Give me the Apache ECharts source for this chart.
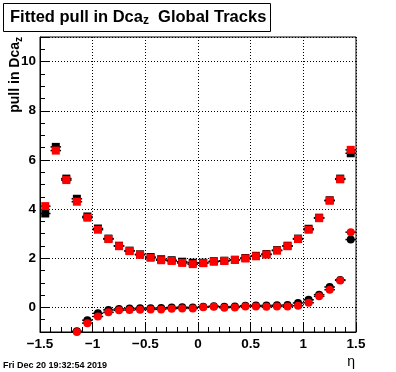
<!DOCTYPE html>
<html>
<head>
<meta charset="utf-8">
<script src="https://cdn.jsdelivr.net/npm/echarts@6/dist/echarts.min.js"></script>
<style>
html,body{margin:0;padding:0;background:#fff;}
#chart{width:396px;height:372px;}
</style>
</head>
<body>
<div id="chart"></div>
<script>
// ---- data (bin centres in eta, bin width 0.1) ----
const etaBins = [-1.45,-1.35,-1.25,-1.15,-1.05,-0.95,-0.85,-0.75,-0.65,-0.55,-0.45,-0.35,-0.25,-0.15,-0.05,
                 0.05,0.15,0.25,0.35,0.45,0.55,0.65,0.75,0.85,0.95,1.05,1.15,1.25,1.35,1.45];
const binHalfWidth = 0.05;
// upper curve (squares)
const blackSquares = [3.82,6.53,5.24,4.42,3.70,3.21,2.80,2.51,2.31,2.16,2.05,1.96,1.92,1.86,1.82,
                      1.82,1.88,1.90,1.94,2.01,2.10,2.17,2.33,2.51,2.80,3.20,3.65,4.36,5.24,6.27];
const redSquares   = [4.12,6.38,5.18,4.30,3.65,3.16,2.78,2.49,2.29,2.14,2.02,1.92,1.89,1.81,1.76,
                      1.80,1.86,1.89,1.93,1.99,2.08,2.15,2.31,2.49,2.78,3.16,3.63,4.34,5.21,6.41];
// lower curve (circles)
const blackCircles = [null,null,null,-0.97,-0.52,-0.24,-0.10,-0.06,-0.04,-0.03,-0.03,-0.02,0.00,0.01,0.00,
                      0.03,0.05,0.03,0.04,0.07,0.08,0.08,0.09,0.10,0.18,0.31,0.52,0.83,1.12,2.76];
const redCircles   = [null,null,null,-1.00,-0.64,-0.37,-0.20,-0.12,-0.11,-0.09,-0.08,-0.08,-0.05,-0.04,-0.04,
                      0.01,0.03,-0.01,0.00,0.04,0.04,0.03,0.04,0.04,0.07,0.19,0.45,0.72,1.10,3.06];
const xTicks = [-1.5,-1,-0.5,0,0.5,1,1.5];
const yTickLabels = [0,2,4,6,8,10];

const FONT = "'Liberation Sans', Arial, Helvetica, sans-serif";

function pairs(vals){
  const out = [];
  etaBins.forEach((x,i)=>{ if (vals[i] !== null) out.push([x, vals[i]]); });
  return out;
}
function errBars(vals, z){
  return {
    type:'custom', z:z, silent:true,
    data: pairs(vals),
    renderItem: function(params, api){
      const x = api.value(0), y = api.value(1);
      if (isNaN(y)) return null;
      const a = api.coord([x - binHalfWidth, y]);
      const b = api.coord([x + binHalfWidth, y]);
      return {type:'line', shape:{x1:a[0], y1:a[1], x2:b[0], y2:b[1]},
              style:{stroke:'#000', lineWidth:1.5}};
    }
  };
}
function markers(vals, symbol, color, z){
  return {type:'scatter', z:z, silent:true, symbol:symbol, symbolSize:8,
          itemStyle:{color:color, opacity:1}, data: pairs(vals), clip:false};
}

const chart = echarts.init(document.getElementById('chart'), null, {renderer:'canvas'});
chart.setOption({
  animation:false,
  backgroundColor:'#fff',
  grid:{left:40, right:40, top:37, bottom:40, show:true, borderColor:'#000', borderWidth:1, backgroundColor:'transparent'},
  xAxis:{
    type:'value', min:-1.5, max:1.5, interval:0.5,
    axisLine:{show:true, onZero:false, lineStyle:{color:'#000', width:1}},
    axisTick:{show:true, inside:true, length:9, lineStyle:{color:'#000'}},
    minorTick:{show:true, splitNumber:5, length:5, lineStyle:{color:'#000'}},
    splitLine:{show:true, lineStyle:{color:'#000', type:[1,2], width:1}},
    axisLabel:{show:true, margin:5, color:'#000', fontFamily:FONT, fontWeight:'bold', fontSize:13.5,
      showMinLabel:true, showMaxLabel:true, hideOverlap:false,
      formatter:function(v){ const t = xTicks.find(k=>Math.abs(k-v)<1e-9); if (t===undefined) return ''; return t<0 ? '\u2212'+Math.abs(t) : String(t);} }
  },
  yAxis:[{
    type:'value', min:-1, max:11, splitNumber:6,
    axisLine:{show:true, onZero:false, lineStyle:{color:'#000', width:1}},
    axisTick:{show:true, inside:true, length:9, lineStyle:{color:'#000'}},
    splitLine:{show:true, lineStyle:{color:'#000', type:[1,2], width:1}},
    axisLabel:{show:true, margin:4, color:'#000', fontFamily:FONT, fontWeight:'bold', fontSize:13.5,
      showMinLabel:true, showMaxLabel:true, hideOverlap:false,
      formatter:function(v){ const t = yTickLabels.find(k=>Math.abs(k-v)<1e-9); return t===undefined ? '' : String(t);} }
  },{
    type:'value', min:-1, max:11, interval:0.5, position:'left', offset:0,
    axisLine:{show:false, onZero:false},
    axisTick:{show:true, inside:true, length:5, lineStyle:{color:'#000'}},
    splitLine:{show:false}, axisLabel:{show:false}
  }],
  series:[
    errBars(blackSquares, 2), markers(blackSquares,'rect','#000',3),
    errBars(blackCircles, 2), markers(blackCircles,'circle','#000',3),
    errBars(redSquares, 4), markers(redSquares,'rect','#ff0000',5),
    errBars(redCircles, 4), markers(redCircles,'circle','#ff0000',5)
  ],
  graphic:[
    {type:'rect', left:3, top:3, shape:{width:267, height:28}, style:{fill:'#fff', stroke:'#000', lineWidth:1}, z:10},
    {type:'text', x:10, y:17, z:11, style:{
      text:'{a|Fitted pull in Dca}{s|z}{a|  Global Tracks}', verticalAlign:'middle', align:'left',
      rich:{a:{fontFamily:FONT, fontWeight:'bold', fontSize:16.5, lineHeight:20, fill:'#000'},
            s:{fontFamily:FONT, fontWeight:'bold', fontSize:12, lineHeight:10, verticalAlign:'bottom', fill:'#000'}}}},
    {type:'text', x:15, y:37, rotation:Math.PI/2, z:11, style:{
      text:'{a|pull in Dca}{s|z}', align:'right', verticalAlign:'middle',
      rich:{a:{fontFamily:FONT, fontWeight:'bold', fontSize:14, lineHeight:18, fill:'#000'},
            s:{fontFamily:FONT, fontWeight:'bold', fontSize:10, lineHeight:8, verticalAlign:'bottom', fill:'#000'}}}},
    {type:'text', right:41, top:355, z:11, style:{text:'\u03b7', fontFamily:FONT, fontSize:14, fill:'#000'}},
    {type:'text', left:3, top:361, z:11, style:{text:'Fri Dec 20 19:32:54 2019', fontFamily:FONT, fontWeight:'bold', fontSize:9, fill:'#000'}}
  ]
});
</script>
</body>
</html>
